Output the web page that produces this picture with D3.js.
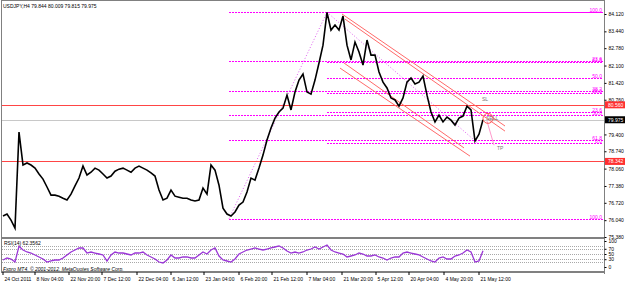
<!DOCTYPE html>
<html>
<head>
<meta charset="utf-8">
<script src="https://cdn.jsdelivr.net/npm/d3@7"></script>
<style>
body { margin: 0; background: #fff; }
svg text { font-family: "Liberation Sans", Arial, sans-serif; font-size: 5px; }
</style>
</head>
<body>
<div id="chart"></div>
<script>
// USDJPY H4 closes, sampled along the chart (left to right)
var closes = [76.20, 76.28, 76.04, 75.73, 79.49, 78.20, 78.28, 78.20, 78.08, 77.85,
    77.65, 77.34, 77.02, 77.02, 76.98, 76.90, 76.83, 77.06, 77.38, 77.69,
    78.16, 77.81, 77.92, 78.08, 78.00, 77.85, 77.69, 77.77, 77.96, 78.04,
    78.08, 78.00, 77.92, 78.08, 78.16, 78.08, 78.00, 77.89, 77.77, 77.22,
    76.83, 76.90, 77.22, 76.98, 76.94, 76.90, 76.90, 76.83, 76.79, 76.83,
    77.30, 77.06, 78.20, 78.00, 77.41, 76.51, 76.28, 76.20, 76.36, 76.63,
    76.75, 77.14, 77.69, 77.61, 78.08, 78.59, 79.18, 79.65, 80.04, 80.28,
    80.43, 80.94, 80.36, 81.06, 81.53, 81.77, 81.06, 80.98, 81.53, 82.20,
    82.90, 84.18, 83.49, 83.69, 83.49, 84.04, 82.90, 82.32, 83.02, 82.63,
    82.12, 83.10, 82.51, 82.51, 81.85, 81.45, 81.22, 80.83, 80.75, 80.51,
    80.83, 81.45, 81.61, 81.38, 81.45, 81.69, 80.94, 80.28, 79.89, 80.16,
    79.89, 80.08, 79.96, 79.77, 80.04, 80.12, 80.51, 80.36, 79.14, 79.41,
    79.975];

// RSI(14) at the same samples
var rsi = [26.9, 34.6, 30.8, 19.2, 80.0, 65.4, 57.7, 53.8, 46.2, 38.5,
    30.8, 19.2, 23.1, 26.9, 26.9, 34.6, 46.2, 57.7, 65.4, 73.1,
    73.1, 53.8, 57.7, 53.8, 50.0, 46.2, 23.1, 46.2, 57.7, 53.8,
    53.8, 50.0, 46.2, 53.8, 53.8, 57.7, 46.2, 38.5, 30.8, 19.2,
    15.4, 26.9, 46.2, 34.6, 34.6, 38.5, 38.5, 34.6, 34.6, 46.2,
    57.7, 50.0, 65.4, 73.1, 42.3, 26.9, 23.1, 19.2, 30.8, 50.0,
    57.7, 65.4, 69.2, 73.1, 69.2, 65.4, 69.2, 73.1, 76.9, 80.8,
    73.1, 61.5, 53.8, 57.7, 53.8, 57.7, 65.4, 69.2, 76.9, 69.2,
    76.9, 84.6, 65.4, 57.7, 53.8, 50.0, 38.5, 42.3, 46.2, 53.8,
    50.0, 42.3, 42.3, 46.2, 38.5, 34.6, 26.9, 34.6, 38.5, 38.5,
    53.8, 57.7, 53.8, 50.0, 46.2, 38.5, 30.8, 23.1, 19.2, 34.6,
    38.5, 30.8, 30.8, 42.3, 46.2, 53.8, 65.4, 57.7, 19.2, 23.1,
    62.36];

// 80.080 sits under the current price box, so it is left out
var priceTicks = [84.12, 83.44, 82.78, 82.10, 81.42, 80.76, 79.40, 78.74, 78.06, 77.38, 76.72, 76.04, 75.38];
var rsiLevels = [80, 70, 50, 30, 20];
var rsiTicks = [100, 70, 50, 30, 0];

var timeLabels = ["24 Oct 2011", "8 Nov 04:00", "22 Nov 20:00", "7 Dec 12:00", "22 Dec 04:00",
    "6 Jan 12:00", "23 Jan 04:00", "6 Feb 20:00", "21 Feb 12:00", "7 Mar 04:00",
    "21 Mar 20:00", "5 Apr 12:00", "20 Apr 04:00", "4 May 20:00", "21 May 12:00"];
var timeTickAt = [0, 8, 16.5, 24.75, 33.5, 42, 50.25, 59, 67.25, 76, 84.75, 93.25, 101.5, 110.25, 119];

// fibonacci objects: [start index, 100% price, end index, 0% price]
var fibLevels = [0, 23.6, 38.2, 50, 61.8, 100];
var fibRise = [56.5, 76.10, 81, 84.19];
var fibFall = [81, 84.19, 118.75, 79.05];

var redLevels = [80.56, 78.342];
var lastPrice = 79.975;

// channel lines: [index1, price1, index2, price2]
var channels = [[84.75, 84.12, 125.5, 79.73], [85.5, 83.92, 125.5, 79.53],
    [84.25, 82.00, 116.75, 78.55], [85.25, 82.20, 115.25, 78.87]];

var sellAt = [121.25, 80.03];
var tpLine = [121, 79.92, 122.75, 78.98];

function drawChart() {
    var width = 625, height = 284;
    var right = 604;

    var svg = d3.select("#chart").append("svg")
        .attr("width", width)
        .attr("height", height);

    var x = d3.scaleLinear().domain([0, closes.length - 1]).range([3, 483]);
    var y = d3.scaleLinear().domain([75.38, 84.12]).range([237, 14]);
    var yr = d3.scaleLinear().domain([0, 100]).range([267, 241]);
    // snap horizontal lines onto a pixel row
    var crisp = function (v) { return Math.round(v) + 0.5; };

    svg.append("clipPath").attr("id", "mainClip")
        .append("rect").attr("x", 2).attr("y", 1).attr("width", right - 2).attr("height", 236);

    var main = svg.append("g").attr("clip-path", "url(#mainClip)");

    // fibonacci levels
    [fibRise, fibFall].forEach(function (f, k) {
        var lv = function (l) { return f[3] + (f[1] - f[3]) * l / 100; };
        main.selectAll(null).data(fibLevels).enter().append("line")
            .attr("x1", x(f[0])).attr("x2", right - 1)
            .attr("y1", function (d) { return crisp(y(lv(d))); })
            .attr("y2", function (d) { return crisp(y(lv(d))); })
            .attr("stroke", "#ff00ff").attr("stroke-width", 1)
            .attr("shape-rendering", "crispEdges")
            .attr("stroke-dasharray", "2,1");
        main.append("line")
            .attr("x1", x(f[0])).attr("y1", y(f[1]))
            .attr("x2", x(f[2])).attr("y2", y(f[3]))
            .attr("stroke", "#e060f0").attr("stroke-dasharray", "1,2");
        // the rise's 0.0 label is hidden under the fall's 100.0
        main.selectAll(null).data(k === 0 ? fibLevels.slice(1) : fibLevels).enter().append("text")
            .attr("x", right - 2)
            .attr("y", function (d) { return crisp(y(lv(d))) - 0.8; })
            .attr("text-anchor", "end")
            .attr("font-size", 4.2)
            .attr("fill", "#ff00ff")
            .text(function (d) { return d.toFixed(1); });
    });

    // horizontal levels
    main.append("line")
        .attr("x1", 2).attr("x2", right)
        .attr("y1", crisp(y(lastPrice))).attr("y2", crisp(y(lastPrice)))
        .attr("stroke", "#c8c8c8");
    main.selectAll(".red").data(redLevels).enter().append("line")
        .attr("x1", 2).attr("x2", right)
        .attr("y1", function (d) { return crisp(y(d)); })
        .attr("y2", function (d) { return crisp(y(d)); })
        .attr("stroke", "#ff4545");

    // channel
    main.selectAll(".chan").data(channels).enter().append("line")
        .attr("x1", function (d) { return x(d[0]); })
        .attr("y1", function (d) { return y(d[1]); })
        .attr("x2", function (d) { return x(d[2]); })
        .attr("y2", function (d) { return y(d[3]); })
        .attr("stroke", "#ff6a6a");

    // price
    main.append("path")
        .datum(closes)
        .attr("fill", "none")
        .attr("stroke", "#000")
        .attr("stroke-width", 1.6)
        .attr("d", d3.line().x(function (d, i) { return x(i); }).y(function (d) { return y(d); }));

    // trade marks
    main.append("line")
        .attr("x1", x(tpLine[0])).attr("y1", y(tpLine[1]))
        .attr("x2", x(tpLine[2])).attr("y2", y(tpLine[3]))
        .attr("stroke", "#ff99cc");
    main.append("circle")
        .attr("cx", x(sellAt[0])).attr("cy", y(sellAt[1])).attr("r", 5)
        .attr("fill", "none").attr("stroke", "#ff5a5a");
    main.append("text").attr("x", x(sellAt[0]) - 2).attr("y", y(sellAt[1]) + 1.8)
        .attr("fill", "#777").text("SELL");
    main.append("text").attr("x", x(119.75)).attr("y", y(80.71))
        .attr("fill", "#777").text("SL");
    main.append("text").attr("x", x(123.5)).attr("y", y(78.79))
        .attr("fill", "#777").text("TP");

    // title
    svg.append("text").attr("x", 3).attr("y", 7.5).attr("fill", "#000")
        .text("USDJPY,H4  79.844 80.009 79.815 79.975");

    // RSI panel
    svg.selectAll(".rl").data(rsiLevels).enter().append("line")
        .attr("x1", 2).attr("x2", right)
        .attr("y1", function (d) { return crisp(yr(d)); })
        .attr("y2", function (d) { return crisp(yr(d)); })
        .attr("stroke", "#a8a8a8").attr("stroke-dasharray", "1,1");
    svg.append("path")
        .datum(rsi)
        .attr("fill", "none")
        .attr("stroke", "#9a36d6")
        .attr("stroke-width", 1.3)
        .attr("d", d3.line().x(function (d, i) { return x(i); }).y(function (d) { return yr(d); }));
    svg.append("text").attr("x", 4).attr("y", 245).attr("fill", "#000").text("RSI(14) 62.3562");
    svg.append("text").attr("x", 3).attr("y", 270.5).attr("fill", "#000")
        .attr("font-style", "italic")
        .text("Fxpro MT4, \u00a9 2001-2012, MetaQuotes Software Corp.");

    // frame
    svg.append("line").attr("x1", 1.5).attr("x2", 1.5).attr("y1", 0).attr("y2", 272).attr("stroke", "#808080");
    svg.append("line").attr("x1", 1).attr("x2", right).attr("y1", 0.5).attr("y2", 0.5).attr("stroke", "#808080");
    svg.append("line").attr("x1", 1).attr("x2", right).attr("y1", 238).attr("y2", 238).attr("stroke", "#808080").attr("stroke-width", 2);
    svg.append("line").attr("x1", 1).attr("x2", right).attr("y1", 272).attr("y2", 272).attr("stroke", "#808080").attr("stroke-width", 2);
    svg.append("line").attr("x1", right + 0.5).attr("x2", right + 0.5).attr("y1", 0).attr("y2", 274).attr("stroke", "#808080");

    // price axis
    var yAxis = d3.axisRight(y).tickValues(priceTicks).tickSize(2).tickPadding(2)
        .tickFormat(d3.format(".3f"));
    var gy = svg.append("g").attr("transform", "translate(" + (right + 0.5) + ",0)").call(yAxis);
    gy.select(".domain").remove();
    gy.selectAll("text").attr("font-size", 5).attr("font-family", "Liberation Sans, Arial, sans-serif");

    // rsi axis
    var rAxis = d3.axisRight(yr).tickValues(rsiTicks).tickSize(2).tickPadding(2)
        .tickFormat(d3.format("d"));
    var gr = svg.append("g").attr("transform", "translate(" + (right + 0.5) + ",0)").call(rAxis);
    gr.select(".domain").remove();
    gr.selectAll("text").attr("font-size", 3.6).attr("font-family", "Liberation Sans, Arial, sans-serif");

    // price boxes
    var boxes = [{ v: redLevels[0], c: "#ff3030" }, { v: lastPrice, c: "#000" }, { v: redLevels[1], c: "#ff3030" }];
    var gb = svg.selectAll(".box").data(boxes).enter().append("g");
    gb.append("rect")
        .attr("x", right + 1).attr("width", width - right - 1)
        .attr("y", function (d) { return y(d.v) - 3.5; })
        .attr("height", 7)
        .attr("fill", function (d) { return d.c; });
    gb.append("text")
        .attr("x", right + 4)
        .attr("y", function (d) { return y(d.v) + 1.8; })
        .attr("fill", "#fff")
        .text(function (d) { return d.v.toFixed(3); });

    // time axis
    var gt = svg.selectAll(".tt").data(timeLabels).enter().append("g")
        .attr("transform", function (d, i) { return "translate(" + x(timeTickAt[i]) + ",272)"; });
    gt.append("line").attr("y1", 0).attr("y2", 3).attr("stroke", "#000");
    gt.append("text").attr("x", 1.5).attr("y", 9).attr("fill", "#000").text(function (d) { return d; });
}

drawChart();
</script>
</body>
</html>
